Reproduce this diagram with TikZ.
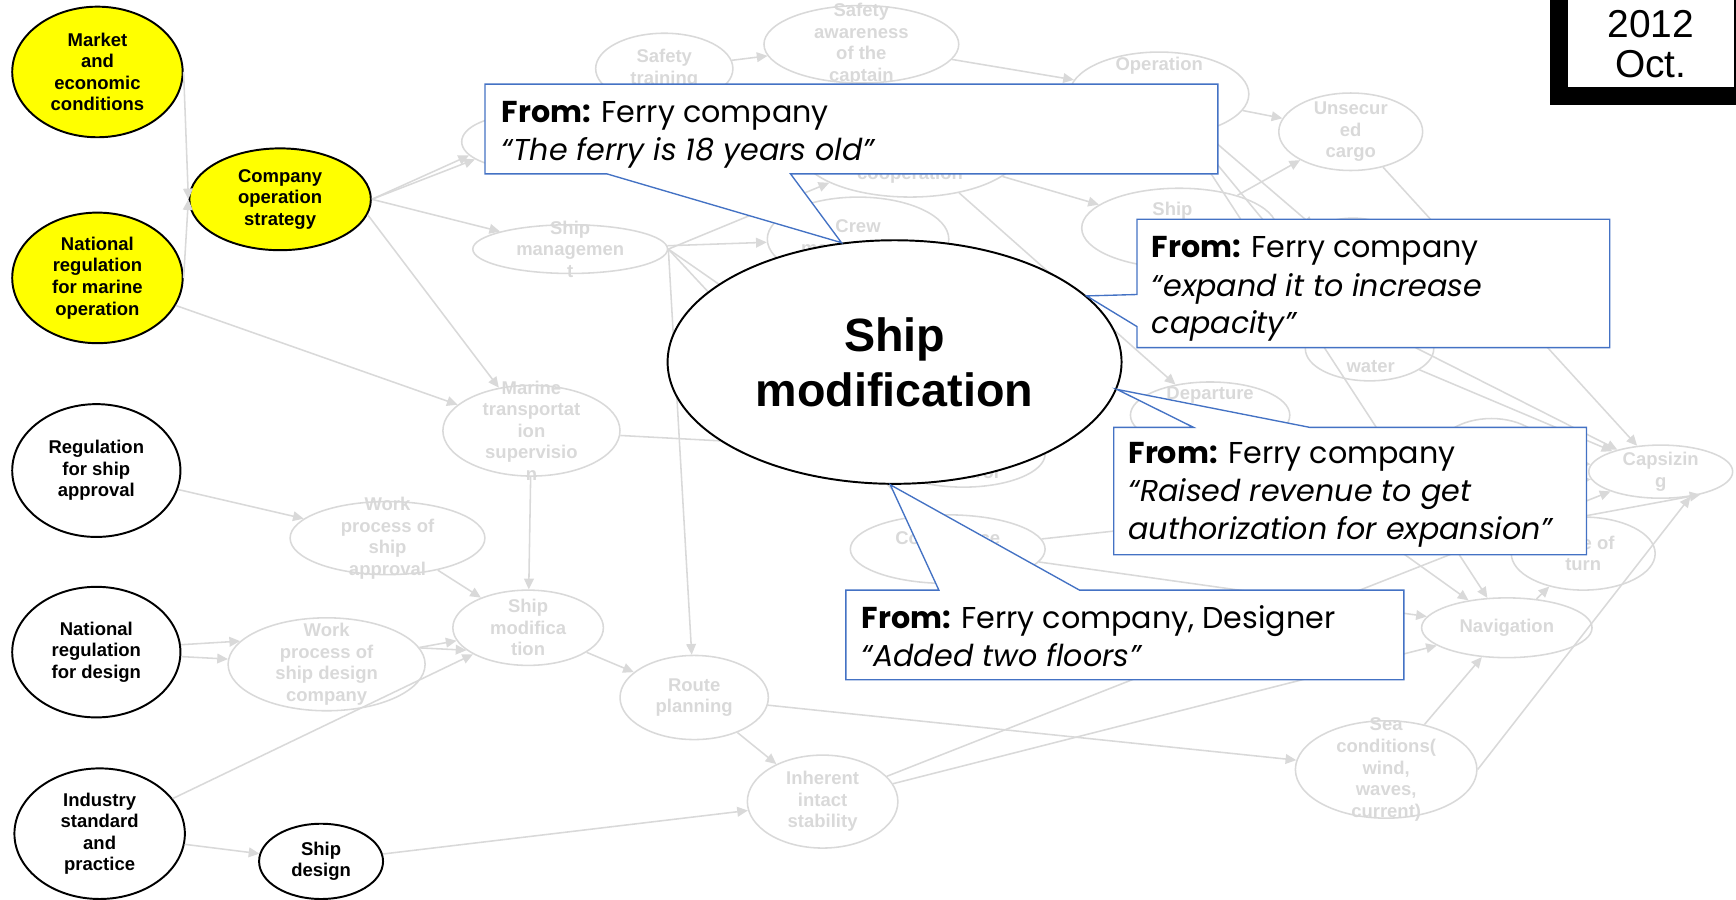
\documentclass[tikz,border=0pt]{standalone}
\usepackage{fontspec}
\setmainfont{Liberation Sans}
\newfontfamily\gothic{Poppins}
\usetikzlibrary{shapes.geometric,arrows.meta}
\definecolor{lgray}{RGB}{217,217,217}
\definecolor{callblue}{RGB}{68,114,196}
\definecolor{yfill}{RGB}{255,255,0}
\tikzset{
    gtext/.style={text=lgray, font=\fontsize{9.5}{11.1}\selectfont\bfseries, align=center, inner sep=0pt},
    btext/.style={gtext, text=black},
    gnode/.style n args={3}{ellipse, draw=lgray, line width=0.8pt, inner sep=0pt,
        minimum width=#1*0.04cm, minimum height=#2*0.04cm, label={[gtext]center:{#3}}},
    bnode/.style n args={3}{ellipse, draw=black, line width=1pt, fill=white, inner sep=0pt,
        minimum width=#1*0.04cm, minimum height=#2*0.04cm, label={[btext]center:{#3}}},
    ynode/.style n args={3}{bnode={#1}{#2}{#3}, fill=yfill},
    gedge/.style={draw=lgray, line width=0.8pt, -{Triangle[length=5.5pt,width=5pt]}},
    callout/.style={draw=callblue, line width=0.7pt, fill=white},
    notetext/.style={font=\gothic\fontsize{15.5}{19}\selectfont, inner sep=0pt, anchor=base west},
}

\begin{document}
\begin{tikzpicture}[x=0.02cm, y=-0.02cm]
\useasboundingbox (0,0) rectangle (1568,812);
\clip (0,0) rectangle (1568,812);

% factors on the left
\node[ynode={77}{59}{Market\\and\\economic\\conditions}] (market) at (88,65) {};
\node[ynode={82}{46}{Company\\operation\\strategy}] (company) at (253,180) {};
\node[ynode={77}{59}{National\\regulation\\for marine\\operation}] (natMarine) at (88,251) {};
\node[bnode={76}{60}{Regulation\\for ship\\approval}] (regApproval) at (87,425) {};
\node[bnode={76}{59}{National\\regulation\\for design}] (natDesign) at (87,589) {};
\node[bnode={77}{59}{Industry\\standard\\and\\practice}] (industry) at (90,753) {};
\node[bnode={56}{34}{Ship\\design}] (shipDesign) at (290,778) {};

% faded network
\node[gnode={53}{24}{}] (hiddenA) at (470,128) {};
\node[gnode={62}{32}{Safety\\training}] (training) at (600,62) {};
\node[gnode={88}{35}{Safety\\awareness\\of the\\captain}] (awareness) at (778,40) {};
\node[gnode={100}{43}{}] (coop) at (822,135) {};
\node[gtext] (coopT) at (822,158) {cooperation};
\node[gnode={82}{38}{Crew\\management}] (crew) at (775,216) {};
\node[gnode={81}{38}{}] (operation) at (1047,85) {};
\node[gtext] (operationT) at (1047,59) {Operation};
\node[gnode={65}{35}{Unsecur\\ed\\cargo}] (unsecured) at (1220,119) {};
\node[gnode={88}{36}{}] (shipR) at (1065,206) {};
\node[gtext] (shipRT) at (1059,190) {Ship};
\node[gnode={55}{38}{}] (hiddenB) at (1222,235) {};
\node[gnode={58}{29}{}] (water) at (1237,315) {};
\node[gtext] (waterT) at (1238,331) {water};
\node[gnode={72}{30}{}] (departure) at (1093,375) {};
\node[gtext] (departureT) at (1093,357) {Departure};
\node[gnode={74}{30}{}] (control) at (870,410) {};
\node[gtext] (controlT) at (874,426) {control};
\node[gnode={88}{31}{Compliance\\of}] (compliance) at (856,496) {};
\node[gnode={50}{32}{}] (hiddenR) at (1347,410) {};
\node[gnode={65}{33}{Rate of\\turn}] (rateTurn) at (1430,500) {};
\node[gnode={65}{24}{Capsizin\\g}] (capsizing) at (1500,426) {};
\node[gnode={77}{27}{Navigation}] (navigation) at (1361,567) {};
\node[gnode={82}{44}{Sea\\conditions(\\wind,\\waves,\\current)}] (seaCond) at (1252,695) {};
\node[gnode={68}{42}{Inherent\\intact\\stability}] (inherent) at (743,724) {};
\node[gnode={67}{38}{Route\\planning}] (route) at (627,630) {};
\node[gnode={80}{41}{Marine\\transportat\\ion\\supervisio\\n}] (marine) at (480,389) {};
\node[gnode={88}{33}{Work\\process of\\ship\\approval}] (approvalWork) at (350,486) {};
\node[gnode={68}{34}{Ship\\modifica\\tion}] (shipModG) at (477,567) {};
\node[gnode={89}{42}{Work\\process of\\ship design\\company}] (designWork) at (295,600) {};
\node[gnode={88}{22}{Ship\\managemen\\t}] (shipMgmt) at (515,225) {};

\draw[gedge] (market.east) -- (company.west);
\draw[gedge] (natMarine.east) -- (company.west);
\draw[gedge] (company.east) -- (hiddenA);
\draw[gedge] (company.east) -- (hiddenA.195);
\draw[gedge] (company.east) -- (shipMgmt);
\draw[gedge] (company.-10) -- (marine);
\draw[gedge] (natMarine) -- (marine);
\draw[gedge] (hiddenA) -- (training);
\draw[gedge] (training) -- (awareness);
\draw[gedge] (awareness) -- (operation);
\draw[gedge] (shipMgmt) -- (crew);
\draw[gedge] (shipMgmt.east) -- (coop);
\draw[gedge] (shipMgmt.east) -- (route);
\draw[gedge] (shipMgmt.east) -- (control);
\draw[gedge] (shipMgmt.east) -- (compliance);
\draw[gedge] (coop) -- (shipR);
\draw[gedge] (coop) -- (departure);
\draw[gedge] (operation) -- (unsecured);
\draw[gedge] (operation) -- (hiddenB);
\draw[gedge] (operation) -- (navigation);
\draw[gedge] (operation) -- (water);
\draw[gedge] (shipR) -- (unsecured);
\draw[gedge] (unsecured) -- (capsizing);
\draw[gedge] (water) -- (capsizing);
\draw[gedge] (shipR) -- (capsizing);
\draw[gedge] (hiddenR) -- (capsizing);
\draw[gedge] (rateTurn.north) -- (capsizing.-30);
\draw[gedge] (seaCond.east) -- (capsizing.-40);
\draw[gedge] (seaCond) -- (navigation);
\draw[gedge] (navigation) -- (rateTurn);
\draw[gedge] (compliance) -- (navigation);
\draw[gedge] (compliance) -- (capsizing);
\draw[gedge] (departure) -- (navigation);
\draw[gedge] (inherent) -- (capsizing);
\draw[gedge] (inherent) -- (navigation);
\draw[gedge] (route) -- (seaCond);
\draw[gedge] (route) -- (inherent);
\draw[gedge] (shipModG) -- (route);
\draw[gedge] (marine) -- (shipModG);
\draw[gedge] (marine) -- (control);
\draw[gedge] (approvalWork) -- (shipModG);
\draw[gedge] (regApproval) -- (approvalWork);
\draw[gedge] (natDesign) -- (designWork);
\draw[gedge] (natDesign.5) -- (designWork.165);
\draw[gedge] (designWork) -- (shipModG);
\draw[gedge] (designWork.10) -- (shipModG.200);
\draw[gedge] (industry) -- (shipModG);
\draw[gedge] (industry) -- (shipDesign);
\draw[gedge] (shipDesign) -- (inherent);

% focus factor
\node[ellipse, draw, line width=1pt, fill=white, inner sep=0pt, minimum width=410*0.02cm,
    minimum height=220*0.02cm, align=center, font=\fontsize{24}{28.5}\selectfont\bfseries]
    (shipMod) at (808,327) {Ship\\modification};
\coordinate (tipA) at (shipMod.114.8);
\coordinate (tipB) at (shipMod.19.5);
\coordinate (tipC) at (shipMod.-7.9);
\coordinate (tipD) at (shipMod.-92.6);

% callouts
\draw[callout] (438,76) -- (1100,76) -- (1100,157) -- (714,157) -- (tipA) -- (548,157) -- (438,157) -- cycle;
\node[notetext] (noteA1) at (453,111) {\bfseries From:\mdseries{} Ferry company};
\node[notetext] (noteA2) at (453,145) {\itshape “The ferry is 18 years old”};

\draw[callout] (1027,198) -- (1454,198) -- (1454,314) -- (1027,314) -- (1027,295) -- (tipB) -- (1027,266) -- cycle;
\node[notetext] (noteB1) at (1040,233) {\bfseries From:\mdseries{} Ferry company};
\node[notetext] (noteB2) at (1040,268) {\itshape “expand it to increase};
\node[notetext] (noteB3) at (1040,301) {\itshape capacity”};

\draw[callout] (1006,386) -- (1078,386) -- (tipC) -- (1183,386) -- (1433,386) -- (1433,501) -- (1006,501) -- cycle;
\node[notetext] (noteC1) at (1019,419) {\bfseries From:\mdseries{} Ferry company};
\node[notetext] (noteC2) at (1019,453) {\itshape “Raised revenue to get};
\node[notetext] (noteC3) at (1019,487) {\itshape authorization for expansion”};

\draw[callout] (764,533) -- (848,533) -- (tipD) -- (975,533) -- (1268,533) -- (1268,614) -- (764,614) -- cycle;
\node[notetext] (noteD1) at (778,568) {\bfseries From:\mdseries{} Ferry company, Designer};
\node[notetext] (noteD2) at (778,602) {\itshape “Added two floors”};

% date tag
\draw[line width=0.32cm] (1408,-40) rectangle (1574,87);
\node[font=\fontsize{20}{20.6}\selectfont, inner sep=0pt, anchor=base] (yearT) at (1491,34) {2012};
\node[font=\fontsize{20}{20.6}\selectfont, inner sep=0pt, anchor=base] (monthT) at (1491,70) {Oct.};
\end{tikzpicture}
\end{document}
